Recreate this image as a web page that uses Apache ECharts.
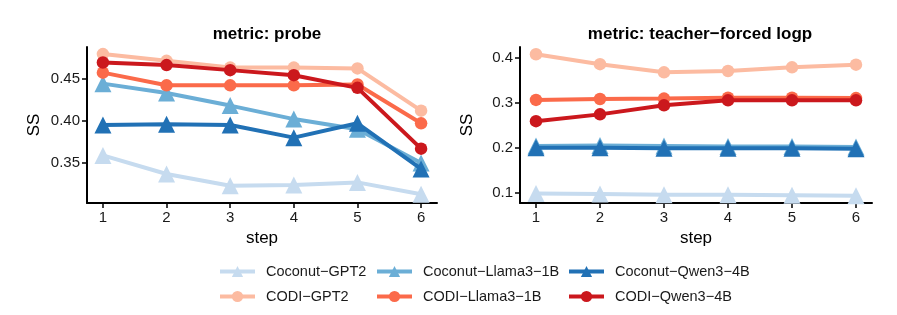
<!DOCTYPE html>
<html><head><meta charset="utf-8">
<script src="https://cdn.jsdelivr.net/npm/echarts@6/dist/echarts.min.js"></script>
<style>html,body{margin:0;padding:0;background:#fff}#c{width:897px;height:315px}</style>
</head><body><div id="c"></div>
<script>
const steps = [1, 2, 3, 4, 5, 6];
const seriesNames = ['Coconut-GPT2', 'Coconut-Llama3-1B', 'Coconut-Qwen3-4B', 'CODI-GPT2', 'CODI-Llama3-1B', 'CODI-Qwen3-4B'];
const legendLabels = ['Coconut\u2212GPT2', 'Coconut\u2212Llama3\u22121B', 'Coconut\u2212Qwen3\u22124B', 'CODI\u2212GPT2', 'CODI\u2212Llama3\u22121B', 'CODI\u2212Qwen3\u22124B'];
const colors = ['#c6dbef', '#6baed6', '#2171b5', '#fcbba1', '#fb6a4a', '#cb181d'];
const symbols = ['triangle', 'triangle', 'triangle', 'circle', 'circle', 'circle'];
// metric: probe
const probeCoconutGPT2 = [0.359, 0.337, 0.323, 0.324, 0.327, 0.313];
const probeCoconutLlama = [0.444, 0.433, 0.418, 0.402, 0.390, 0.350];
const probeCoconutQwen = [0.395, 0.396, 0.395, 0.380, 0.397, 0.343];
const probeCODIGPT2 = [0.479, 0.471, 0.463, 0.463, 0.462, 0.412];
const probeCODILlama = [0.457, 0.442, 0.442, 0.442, 0.443, 0.397];
const probeCODIQwen = [0.469, 0.466, 0.460, 0.454, 0.439, 0.367];
// metric: teacher-forced logp
const tfCoconutGPT2 = [0.099, 0.098, 0.096, 0.096, 0.095, 0.094];
const tfCoconutLlama = [0.204, 0.205, 0.204, 0.203, 0.203, 0.202];
const tfCoconutQwen = [0.200, 0.200, 0.199, 0.199, 0.199, 0.198];
const tfCODIGPT2 = [0.407, 0.385, 0.367, 0.370, 0.378, 0.384];
const tfCODILlama = [0.306, 0.308, 0.309, 0.311, 0.311, 0.310];
const tfCODIQwen = [0.259, 0.274, 0.294, 0.305, 0.305, 0.305];
const probeTicks = [0.35, 0.40, 0.45];
const tfTicks = [0.1, 0.2, 0.3, 0.4];
const xTicks = [1, 2, 3, 4, 5, 6];

const probeData = [probeCoconutGPT2, probeCoconutLlama, probeCoconutQwen, probeCODIGPT2, probeCODILlama, probeCODIQwen];
const tfData = [tfCoconutGPT2, tfCoconutLlama, tfCoconutQwen, tfCODIGPT2, tfCODILlama, tfCODIQwen];

const font = 'Liberation Sans, Arial, sans-serif';
const axisLine = { show: true, lineStyle: { color: '#000', width: 2 } };
const axisTick = { show: true, length: 5, lineStyle: { color: '#000', width: 1.5 } };

function xAxis(gi) {
  return {
    type: 'value', gridIndex: gi, min: 0.75, max: 6.25,
    name: 'step', nameLocation: 'middle', nameGap: 27,
    nameTextStyle: { fontFamily: font, fontSize: 17, color: '#000' },
    axisLine: axisLine, splitLine: { show: false },
    axisTick: Object.assign({ customValues: xTicks }, axisTick),
    axisLabel: { customValues: xTicks, fontFamily: font, fontSize: 15, color: '#1a1a1a', margin: 7 }
  };
}
function yAxis(gi, min, max, ticks, dec) {
  return {
    type: 'value', gridIndex: gi, min: min, max: max,
    name: 'SS', nameLocation: 'middle', nameGap: 44, nameRotate: 90,
    nameTextStyle: { fontFamily: font, fontSize: 17, color: '#000' },
    axisLine: axisLine, splitLine: { show: false },
    axisTick: Object.assign({ customValues: ticks }, axisTick),
    axisLabel: { customValues: ticks, fontFamily: font, fontSize: 15, color: '#1a1a1a', margin: 7,
      formatter: v => v.toFixed(dec) }
  };
}

const series = [];
[probeData, tfData].forEach((dataSet, gi) => {
  dataSet.forEach((vals, i) => {
    series.push({
      name: seriesNames[i], type: 'line', xAxisIndex: gi, yAxisIndex: gi,
      data: steps.map((s, k) => [s, vals[k]]),
      symbol: symbols[i], symbolSize: symbols[i] === 'circle' ? 12.5 : 17,
      showSymbol: true,
      lineStyle: { color: colors[i], width: 4 },
      itemStyle: { color: colors[i] },
      emphasis: { disabled: true }, animation: false, z: 2 + i
    });
  });
});

const legendPos = [[218, 264], [375, 264], [567, 264], [218, 289], [375, 289], [567, 289]];
const legends = seriesNames.map((n, i) => ({
  data: [n], left: legendPos[i][0], top: legendPos[i][1], itemWidth: 35, itemHeight: 14, padding: 0,
  lineStyle: { width: 4 },
  formatter: () => legendLabels[i],
  selectedMode: false, textStyle: { fontFamily: font, fontSize: 14.5, color: '#1a1a1a', padding: [0, 0, 0, 6] }
}));

const option = {
  backgroundColor: '#fff',
  animation: false,
  title: [
    { text: 'metric: probe', left: 262, top: 21, textAlign: 'center', textStyle: { fontFamily: font, fontSize: 17, fontWeight: 'bold', color: '#000' } },
    { text: 'metric: teacher\u2212forced logp', left: 695, top: 21, textAlign: 'center', textStyle: { fontFamily: font, fontSize: 17, fontWeight: 'bold', color: '#000' } }
  ],
  grid: [
    { left: 87, top: 47, width: 350, height: 156 },
    { left: 520, top: 47, width: 352, height: 156 }
  ],
  xAxis: [xAxis(0), xAxis(1)],
  yAxis: [yAxis(0, 0.3026, 0.4874, probeTicks, 2), yAxis(1, 0.078, 0.423, tfTicks, 1)],
  legend: legends,
  series: series
};
const chart = echarts.init(document.getElementById('c'), null, { renderer: 'canvas' });
chart.setOption(option);
</script></body></html>
